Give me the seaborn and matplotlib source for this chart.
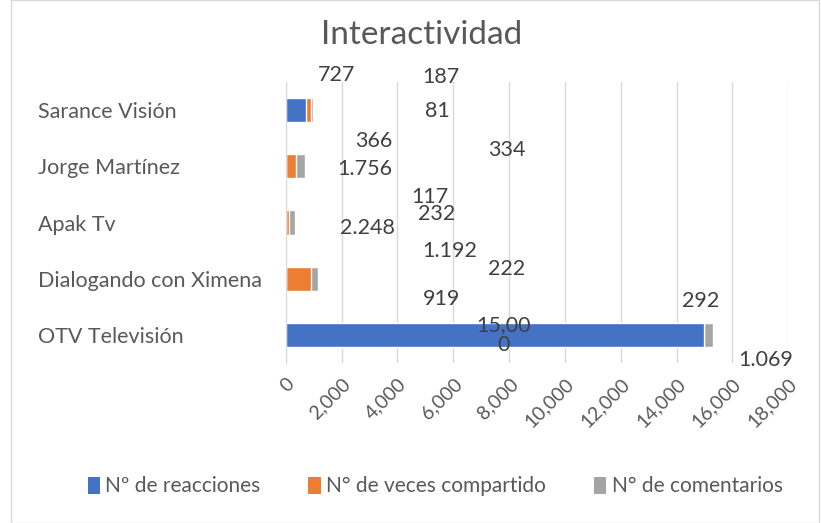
import numpy as np
import pandas as pd
import seaborn as sns
import matplotlib.pyplot as plt
from matplotlib.patches import Patch, Rectangle
from matplotlib.ticker import FuncFormatter, MultipleLocator

# Datos
canales = ['Sarance Visión', 'Jorge Martínez', 'Apak Tv', 'Dialogando con Ximena', 'OTV Televisión']
reacciones = [727, 0, 0, 0, 15000]      # los valores con punto estaban como texto en la hoja -> 0
compartido = [187, 366, 117, 919, 0]
comentarios = [81, 334, 232, 222, 292]
series = ['Nº de reacciones', 'N° de veces compartido', 'N° de comentarios']
colores = ['#4472C4', '#ED7D31', '#A5A5A5']

# etiquetas de datos tal como aparecen (desordenadas) en el gráfico original
etiquetas = ['727', '187', '81', '366', '334', '1.756', '117', '232', '2.248',
             '1.192', '222', '919', '292', '15,00\n0', '1.069']
etiq_x = [1830, 5560, 5420, 3160, 7920, 2840, 5170, 5420, 2910,
          5890, 7900, 5600, 14860, 7790, 17200]
etiq_y = [-0.62, -0.59, 0.02, 0.54, 0.70, 1.04, 1.55, 1.84, 2.09,
          2.50, 2.82, 3.36, 3.39, 4.0, 4.45]

df = pd.DataFrame({'canal': canales, 'reac': reacciones, 'comp': compartido, 'com': comentarios})
df['s1'] = df['reac']
df['s2'] = df['reac'] + df['comp']
df['s3'] = df['s2'] + df['com']

sns.set_style('white')
plt.rcParams['font.family'] = ['Lato', 'DejaVu Sans']

fig = plt.figure(figsize=(8.21, 5.23), dpi=100)
ax = fig.add_axes([0.348, 0.306, 0.612, 0.537])

# barras apiladas: se dibuja el total primero y se va tapando
sns.barplot(data=df, y='canal', x='s3', color=colores[2], width=0.43, ax=ax, saturation=1, orient='h')
sns.barplot(data=df, y='canal', x='s2', color=colores[1], width=0.43, ax=ax, saturation=1, orient='h')
sns.barplot(data=df, y='canal', x='s1', color=colores[0], width=0.43, ax=ax, saturation=1, orient='h')

for t, x, y in zip(etiquetas, etiq_x, etiq_y):
    ax.text(x, y, t, ha='center', va='center', fontsize=15.5, color='#404040',
            linespacing=1.0, clip_on=False)

ax.set_xlim(0, 18000)
ax.set_ylim(4.5, -0.5)
ax.xaxis.set_major_locator(MultipleLocator(2000))
ax.xaxis.set_major_formatter(FuncFormatter(lambda v, p: f'{int(v):,}'))
ax.grid(axis='x', color='#D9D9D9', linewidth=1)
ax.set_axisbelow(True)
for s in ['top', 'right', 'bottom']:
    ax.spines[s].set_visible(False)
ax.spines['left'].set_color('#D9D9D9')
ax.set_xlabel('')
ax.set_ylabel('')
ax.tick_params(axis='x', length=0, labelsize=14, labelcolor='#595959', pad=9)
ax.tick_params(axis='y', length=0, labelsize=15.5, labelcolor='#595959', pad=178)
for lbl in ax.get_xticklabels():
    lbl.set_rotation(45)
    lbl.set_ha('right')
    lbl.set_rotation_mode('anchor')
for lbl in ax.get_yticklabels():
    lbl.set_ha('left')

fig.text(0.513, 0.933, 'Interactividad', ha='center', va='center', fontsize=24, color='#595959')

handles = [Patch(facecolor=c, edgecolor='none') for c in colores]
fig.legend(handles, series, loc='center', bbox_to_anchor=(0.53, 0.07), ncol=3, frameon=False,
           fontsize=15, labelcolor='#595959', handlelength=0.6, handleheight=0.9,
           handletextpad=0.25, columnspacing=2.3)

fig.patches.append(Rectangle((0.013, 0.0), 0.985, 1.0, transform=fig.transFigure,
                             fill=False, edgecolor='#D9D9D9', linewidth=1))

fig.savefig('out.png', dpi=100)
